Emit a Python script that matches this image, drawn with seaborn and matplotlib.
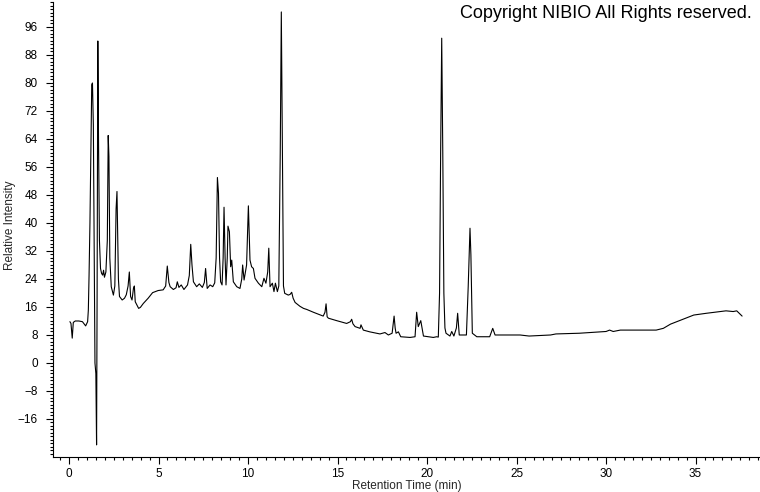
import numpy as np
import pandas as pd
import matplotlib
matplotlib.use("Agg")
import matplotlib.pyplot as plt
from matplotlib.ticker import MultipleLocator, FixedLocator
import seaborn as sns

## chromatogram trace
time_min = [0.05, 0.11, 0.18, 0.24, 0.35, 0.55, 0.75, 0.93, 1.04, 1.08,
            1.12, 1.17, 1.22, 1.27, 1.31, 1.36, 1.40, 1.45, 1.50, 1.54,
            1.57, 1.61, 1.65, 1.70, 1.76, 1.82, 1.88, 1.93, 1.98, 2.06,
            2.14, 2.19, 2.23, 2.28, 2.36, 2.48, 2.56, 2.63, 2.68, 2.72,
            2.76, 2.82, 2.97, 3.10, 3.20, 3.30, 3.37, 3.44, 3.52, 3.60,
            3.65, 3.70, 3.89, 3.99, 4.15, 4.42, 4.67, 4.98, 5.26, 5.40,
            5.49, 5.58, 5.65, 5.83, 5.98, 6.05, 6.14, 6.27, 6.42, 6.62,
            6.72, 6.80, 6.87, 6.95, 7.13, 7.28, 7.45, 7.56, 7.63, 7.72,
            7.88, 8.03, 8.14, 8.22, 8.29, 8.35, 8.41, 8.47, 8.55, 8.61,
            8.66, 8.72, 8.77, 8.84, 8.88, 8.96, 9.03, 9.09, 9.18, 9.37,
            9.55, 9.65, 9.70, 9.78, 9.92, 10.02, 10.11, 10.20, 10.30, 10.39,
            10.58, 10.77, 10.89, 11.00, 11.10, 11.16, 11.23, 11.36, 11.45, 11.53,
            11.64, 11.72, 11.80, 11.86, 11.92, 11.98, 12.05, 12.25, 12.35, 12.44,
            12.52, 12.63, 12.90, 13.10, 13.28, 13.65, 14.20, 14.30, 14.36, 14.42,
            14.49, 14.95, 15.51, 15.72, 15.79, 15.86, 15.98, 16.26, 16.31, 16.44,
            16.80, 17.37, 17.65, 17.84, 18.05, 18.16, 18.22, 18.27, 18.40, 18.53,
            19.05, 19.33, 19.42, 19.51, 19.65, 19.80, 20.35, 20.54, 20.63, 20.70,
            20.76, 20.82, 20.88, 20.94, 21.00, 21.06, 21.28, 21.38, 21.50, 21.64,
            21.71, 21.80, 22.20, 22.30, 22.40, 22.45, 22.53, 22.78, 23.50, 23.67,
            23.80, 24.45, 25.20, 25.70, 26.90, 27.20, 28.50, 30.00, 30.20, 30.40,
            30.80, 32.80, 33.20, 33.60, 34.10, 34.90, 35.60, 36.40, 36.70, 37.10,
            37.30, 37.60]

intensity = [11.8, 11.3, 7.1, 11.6, 12.0, 12.0, 11.8, 10.6, 11.8, 15.1,
             25.0, 40.0, 60.0, 79.5, 80.0, 68.0, 38.0, 0.0, -3.0, -23.4,
             20.0, 92.0, 63.0, 35.0, 27.0, 25.6, 25.1, 26.5, 24.5, 26.0,
             35.0, 65.0, 59.0, 30.0, 21.8, 19.4, 22.0, 44.0, 49.0, 36.0,
             24.0, 19.0, 18.0, 18.5, 19.5, 22.0, 26.0, 19.0, 18.0, 21.3,
             22.0, 17.5, 15.6, 15.9, 17.0, 18.5, 20.1, 20.7, 20.9, 22.0,
             27.7, 23.0, 21.8, 21.0, 21.5, 23.2, 21.6, 22.3, 21.0, 22.3,
             25.0, 33.9, 28.0, 23.2, 21.8, 22.6, 21.6, 23.0, 27.0, 21.3,
             22.3, 21.8, 22.9, 30.0, 53.0, 48.5, 30.0, 23.2, 22.3, 30.0,
             44.5, 30.0, 22.3, 30.0, 39.1, 37.5, 27.5, 29.4, 23.2, 21.8,
             21.3, 24.0, 28.0, 23.7, 28.0, 44.9, 29.4, 27.5, 27.0, 24.2,
             22.8, 21.8, 24.2, 22.8, 26.0, 32.8, 21.8, 22.8, 20.4, 22.8,
             20.4, 22.0, 60.0, 100.3, 60.0, 22.0, 19.9, 19.4, 19.6, 20.2,
             18.5, 17.3, 16.2, 15.6, 15.3, 14.5, 13.4, 14.5, 16.9, 13.2,
             12.8, 12.1, 11.3, 11.8, 12.5, 11.2, 10.4, 9.9, 10.9, 9.4,
             8.9, 8.3, 8.7, 8.0, 8.5, 13.4, 10.0, 8.5, 8.9, 7.5,
             7.3, 7.5, 14.5, 10.4, 12.1, 7.7, 7.3, 7.5, 7.4, 20.0,
             60.0, 92.8, 60.0, 20.0, 10.0, 8.5, 7.7, 9.0, 7.7, 10.0,
             14.2, 8.0, 8.0, 21.8, 38.5, 31.0, 8.5, 7.5, 7.5, 9.9,
             8.0, 8.0, 8.0, 7.7, 8.0, 8.3, 8.5, 9.0, 9.4, 9.0,
             9.4, 9.4, 9.9, 11.1, 12.1, 13.7, 14.2, 14.7, 14.9, 14.7,
             14.9, 13.4]

y_major = [-16, -8, 0, 8, 16, 24, 32, 40, 48, 56, 64, 72, 80, 88, 96]
x_major = [0, 5, 10, 15, 20, 25, 30, 35]

df = pd.DataFrame({'time': time_min, 'intensity': intensity})

sns.set_style("ticks")
plt.rcParams['font.family'] = ['Liberation Sans', 'DejaVu Sans']

fig = plt.figure(figsize=(7.6, 4.92), dpi=100)
ax = fig.add_axes([53 / 760, 35 / 492, 707 / 760, 455 / 492])

sns.lineplot(data=df, x='time', y='intensity', color='black', linewidth=0.8,
             estimator=None, sort=False, ax=ax)

ax.set_xlim(-0.894, 38.6)
ax.set_ylim(-26.86, 103.14)

ax.xaxis.set_major_locator(FixedLocator(x_major))
ax.xaxis.set_minor_locator(MultipleLocator(0.5))
ax.yaxis.set_major_locator(FixedLocator(y_major))
ax.yaxis.set_minor_locator(MultipleLocator(1))

ax.tick_params(axis='both', which='major', length=5, width=0.8, labelsize=8.5,
               color='black', labelcolor='black', direction='out')
ax.tick_params(axis='both', which='minor', length=2.5, width=0.8,
               color='black', direction='out')
ax.tick_params(axis='y', which='major', pad=6)
ax.tick_params(axis='x', which='major', pad=3)

sns.despine(ax=ax)
for s in ['left', 'bottom']:
    ax.spines[s].set_linewidth(0.8)
    ax.spines[s].set_color('black')

ax.set_xlabel('Retention Time (min)', fontsize=8.5, labelpad=0)
ax.set_ylabel('')
# y label placed by hand so it stays inside the picture
fig.text(10 / 760, 1 - 225 / 492, 'Relative Intensity', fontsize=8.5,
         rotation=90, ha='center', va='center')

fig.text(752 / 760, 0.99, 'Copyright NIBIO All Rights reserved.', fontsize=13,
         ha='right', va='top', color='black')

fig.savefig('out.png', dpi=100, facecolor='white')
